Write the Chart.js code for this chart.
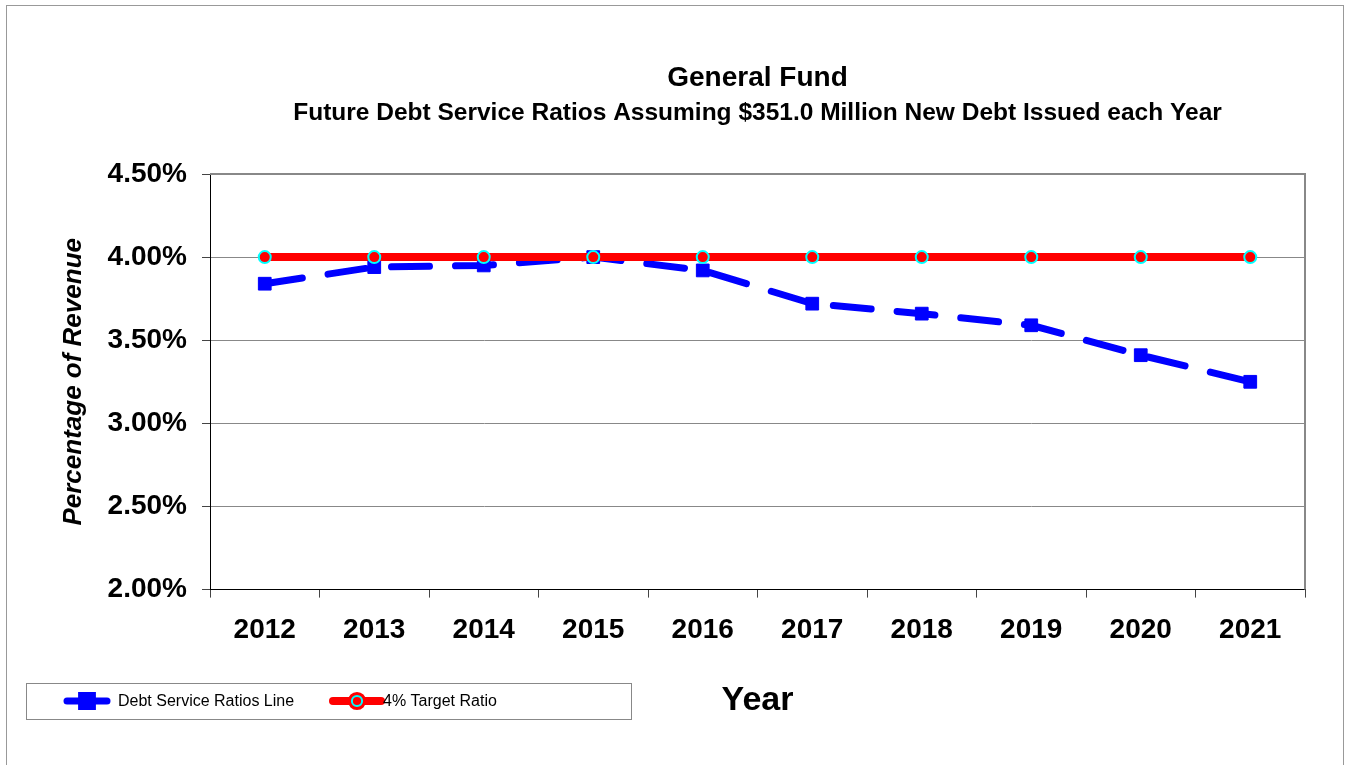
<!DOCTYPE html>
<html>
<head>
<meta charset="utf-8">
<script src="https://cdn.jsdelivr.net/npm/chart.js@4/dist/chart.umd.min.js"></script>
<style>
  html, body { margin: 0; padding: 0; background: #fff; }
  #wrap { width: 1349px; height: 765px; position: relative; }
</style>
</head>
<body>
<div id="wrap"><canvas id="debtChart"></canvas></div>
<script>
// values (percent of revenue)
var years = ["2012", "2013", "2014", "2015", "2016", "2017", "2018", "2019", "2020", "2021"];
var debtServiceRatios = [3.84, 3.94, 3.95, 4.00, 3.92, 3.72, 3.66, 3.59, 3.41, 3.25];
var targetRatios = [4.00, 4.00, 4.00, 4.00, 4.00, 4.00, 4.00, 4.00, 4.00, 4.00];
var seriesNames = ["Debt Service Ratios Line", "4% Target Ratio"];

var FONT = "'Liberation Sans', Arial, sans-serif";

// white page + grey outer frame
var framePlugin = {
    id: "frame",
    beforeDraw: function (chart) {
        var ctx = chart.ctx;
        ctx.save();
        ctx.fillStyle = "#fff";
        ctx.fillRect(0, 0, chart.width, chart.height);
        ctx.strokeStyle = "#999";
        ctx.lineWidth = 1;
        ctx.strokeRect(6.5, 5.5, 1337, 780);
        ctx.restore();
    },
    beforeDatasetsDraw: function (chart) {
        // grey border on the right side of plot area
        var a = chart.chartArea;
        var ctx = chart.ctx;
        ctx.save();
        ctx.strokeStyle = "#888";
        ctx.lineWidth = 2;
        ctx.beginPath();
        ctx.moveTo(a.left, a.top);
        ctx.lineTo(a.right, a.top);
        ctx.lineTo(a.right, a.bottom);
        ctx.stroke();
        ctx.restore();
    }
};

// boxed legend at bottom left
var legendBoxPlugin = {
    id: "legendBox",
    afterDraw: function (chart) {
        var ctx = chart.ctx;
        var items = [
            { x0: 67, x1: 107, tx: 118 },
            { x0: 333, x1: 381, tx: 383 }
        ];
        var y = 701;
        ctx.save();
        ctx.fillStyle = "#fff";
        ctx.fillRect(26, 683, 606, 37);
        ctx.strokeStyle = "#888";
        ctx.lineWidth = 1;
        ctx.strokeRect(26.5, 683.5, 605, 36);

        chart.data.datasets.forEach(function (ds, i) {
            var it = items[i];
            ctx.strokeStyle = ds.borderColor;
            ctx.lineWidth = ds.borderWidth;
            ctx.lineCap = "round";
            ctx.setLineDash([]);
            ctx.beginPath();
            ctx.moveTo(it.x0, y);
            ctx.lineTo(it.x1, y);
            ctx.stroke();
            Chart.helpers.drawPoint(ctx, {
                pointStyle: ds.pointStyle,
                radius: ds.pointRadius * 0.85,
                borderWidth: ds.pointBorderWidth
            }, (it.x0 + it.x1) / 2, y);
            ctx.fillStyle = ds.pointBackgroundColor;
            ctx.strokeStyle = ds.pointBorderColor;
            ctx.lineWidth = ds.pointBorderWidth;
            ctx.fill();
            ctx.stroke();

            ctx.fillStyle = "#000";
            ctx.font = "16px " + FONT;
            ctx.textBaseline = "middle";
            ctx.textAlign = "left";
            ctx.fillText(ds.label, it.tx, y + 1);
        });
        ctx.restore();
    }
};

var chart = new Chart(document.getElementById("debtChart").getContext("2d"), {
    type: "line",
    data: {
        labels: years,
        datasets: [
            {
                label: seriesNames[0],
                data: debtServiceRatios,
                borderColor: "#0000FF",
                backgroundColor: "#0000FF",
                borderWidth: 7,
                borderDash: [38, 26],
                borderCapStyle: "round",
                pointStyle: "rect",
                pointRadius: 9,
                pointBackgroundColor: "#0000FF",
                pointBorderColor: "#0000FF",
                pointBorderWidth: 1,
                tension: 0,
                fill: false,
                order: 1
            },
            {
                label: seriesNames[1],
                data: targetRatios,
                borderColor: "#FF0000",
                backgroundColor: "#FF0000",
                borderWidth: 8,
                pointStyle: "circle",
                pointRadius: 6,
                pointBackgroundColor: "#FF0000",
                pointBorderColor: "#00FFFF",
                pointBorderWidth: 2,
                tension: 0,
                fill: false,
                order: 0
            }
        ]
    },
    options: {
        responsive: true,
        maintainAspectRatio: false,
        animation: false,
        layout: {
            padding: { top: 0, left: 0, right: 44, bottom: 44 }
        },
        plugins: {
            legend: { display: false },
            tooltip: { enabled: false },
            title: {
                display: true,
                fullSize: false,
                text: "General Fund",
                color: "#000",
                font: { family: FONT, size: 28, weight: "bold" },
                padding: { top: 61, bottom: 4 }
            },
            subtitle: {
                display: true,
                fullSize: false,
                text: "Future Debt Service Ratios Assuming $351.0 Million New Debt Issued each Year",
                color: "#000",
                font: { family: FONT, size: 24.5, weight: "bold" },
                padding: { top: 0, bottom: 46 }
            }
        },
        scales: {
            x: {
                offset: true,
                grid: {
                    offset: true,
                    drawOnChartArea: false,
                    drawTicks: true,
                    tickLength: 8,
                    tickColor: "#444"
                },
                border: { color: "#000", width: 1 },
                ticks: {
                    color: "#000",
                    padding: 16,
                    font: { family: FONT, size: 28, weight: "bold" }
                },
                title: {
                    display: true,
                    text: "Year",
                    color: "#000",
                    font: { family: FONT, size: 34, weight: "bold" },
                    padding: { top: 17, bottom: 0 }
                }
            },
            y: {
                min: 2,
                max: 4.5,
                afterFit: function (scale) { scale.width = 210; },
                grid: {
                    color: "#888",
                    tickColor: "#444",
                    tickLength: 8
                },
                border: { color: "#000", width: 1 },
                ticks: {
                    stepSize: 0.5,
                    color: "#000",
                    padding: 15,
                    font: { family: FONT, size: 28, weight: "bold" },
                    callback: function (v) { return v.toFixed(2) + "%"; }
                },
                title: {
                    display: true,
                    text: "Percentage of Revenue",
                    color: "#000",
                    font: { family: FONT, size: 26, weight: "bold", style: "italic" },
                    padding: { top: 58, bottom: 0 }
                }
            }
        }
    },
    plugins: [framePlugin, legendBoxPlugin]
});
</script>
</body>
</html>
